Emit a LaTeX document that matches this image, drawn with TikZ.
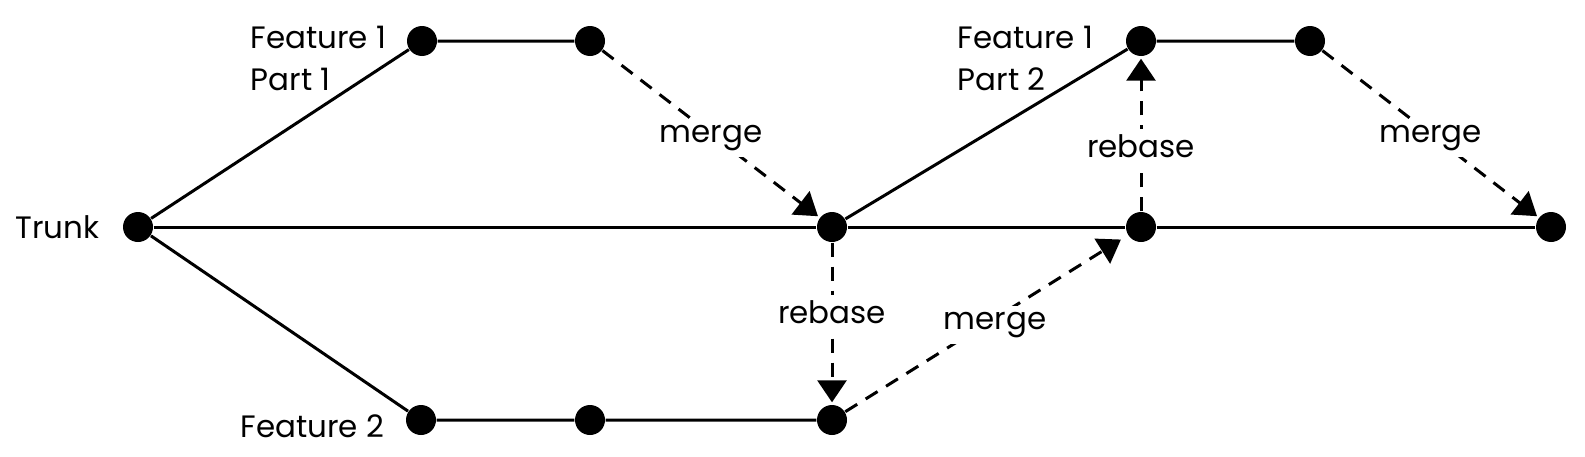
\documentclass[tikz,border=0pt]{standalone}
\usepackage{fontspec}
\setmainfont{Poppins}
\usepackage{tikz}
\usetikzlibrary{arrows.meta}

\begin{document}
\begin{tikzpicture}[
	dot/.style={circle, fill=black, inner sep=0pt, minimum size=0.3cm},
	branch/.style={line width=0.03cm},
	flow/.style={line width=0.03cm, dash pattern=on 0.14cm off 0.1cm, -{Triangle[length=0.22cm,width=0.29cm]}, shorten >=0.02cm},
	lbl/.style={fill=white, inner sep=0.06cm, font=\fontsize{8.8}{11.9}\selectfont},
	txt/.style={inner sep=0pt, font=\fontsize{8.8}{11.9}\selectfont}
]
	\useasboundingbox (0,0) rectangle (15.85,-4.56);
	\node[dot] (t1) at (1.38,-2.27) {};
	\node[dot] (t2) at (8.32,-2.27) {};
	\node[dot] (t3) at (11.41,-2.27) {};
	\node[dot] (t4) at (15.51,-2.27) {};
	\node[dot] (a1) at (4.22,-0.41) {};
	\node[dot] (a2) at (5.90,-0.41) {};
	\node[dot] (b1) at (4.21,-4.20) {};
	\node[dot] (b2) at (5.90,-4.20) {};
	\node[dot] (b3) at (8.32,-4.20) {};
	\node[dot] (c1) at (11.41,-0.41) {};
	\node[dot] (c2) at (13.10,-0.41) {};
	\draw[branch] (t1) -- (t2) -- (t3) -- (t4);
	\draw[branch] (t1) -- (a1) -- (a2);
	\draw[branch] (t1) -- (b1) -- (b2) -- (b3);
	\draw[branch] (t2) -- (c1) -- (c2);
	\draw[flow] (a2) -- node[lbl, yshift=-0.04cm] {merge} (t2);
	\draw[flow] (t2) -- node[lbl, pos=0.43] {rebase} (b3);
	\draw[flow, shorten >=0.08cm] (b3) -- node[lbl, pos=0.53, yshift=-0.07cm] {merge} (t3);
	\draw[flow] (t3) -- node[lbl, pos=0.42] {rebase} (c1);
	\draw[flow] (c2) -- node[lbl, yshift=-0.04cm] {merge} (t4);
	\node[txt, anchor=east] (trunk) at (1.00,-2.27) {Trunk};
	\node[txt, anchor=west, align=left] (f1p1) at (2.50,-0.585) {Feature 1\\Part 1};
	\node[txt, anchor=west, align=left] (f1p2) at (9.57,-0.585) {Feature 1\\Part 2};
	\node[txt, anchor=west] (f2) at (2.40,-4.26) {Feature 2};
\end{tikzpicture}
\end{document}
